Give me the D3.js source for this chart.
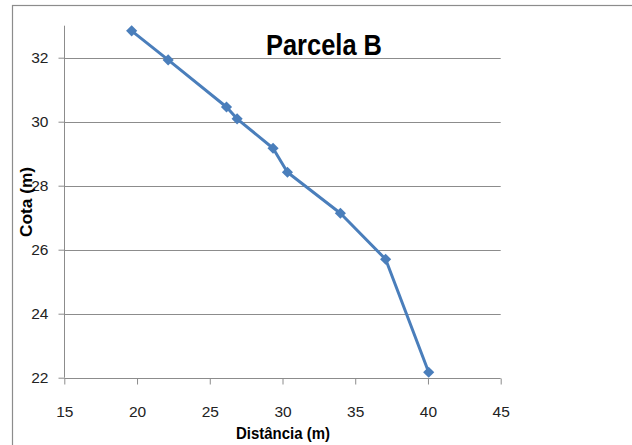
<!DOCTYPE html>
<html><head><meta charset="utf-8">
<script src="https://cdn.jsdelivr.net/npm/d3@7"></script>
<style>body{margin:0;background:#fff}svg{display:block}</style>
</head><body>
<script>
const distancia = [19.63, 22.14, 26.15, 26.88, 29.35, 30.34, 33.98, 37.09, 40.05];
const cota = [32.84, 31.93, 30.46, 30.09, 29.17, 28.42, 27.14, 25.70, 22.17];
const xTicks = [15, 20, 25, 30, 35, 40, 45];
const yTicks = [22, 24, 26, 28, 30, 32];
const title = "Parcela B";
const xTitle = "Distância (m)";
const yTitle = "Cota (m)";

const W = 632, H = 445;
const svg = d3.select("body").append("svg").attr("width", W).attr("height", H);
svg.append("rect").attr("width", W).attr("height", H).attr("fill", "#fff");
// outer frame
svg.append("rect").attr("x", 12.5).attr("y", 5.5).attr("width", 700).attr("height", 600)
  .attr("fill", "none").attr("stroke", "#8c8c8c").attr("stroke-width", 1.2);

const x = d3.scaleLinear().domain([15, 45]).range([64.3, 500.7]);
const y = d3.scaleLinear().domain([22, 33]).range([377.7, 25.7]);

const font = "'Liberation Sans',Arial,sans-serif";

// gridlines
svg.append("g").selectAll("line").data(yTicks.slice(1)).join("line")
  .attr("x1", x(15)).attr("x2", x(45))
  .attr("y1", d => Math.round(y(d)) + 0.5).attr("y2", d => Math.round(y(d)) + 0.5)
  .attr("stroke", "#8c8c8c").attr("stroke-width", 1);

// y axis
const yAxis = svg.append("g").attr("transform", `translate(${Math.round(x(15)) + 0.5},0)`)
  .call(d3.axisLeft(y).tickValues(yTicks).tickSize(6).tickPadding(10).tickFormat(d3.format("d")));
yAxis.select(".domain").attr("d", `M0,${y(33)}V${y(22)}`).attr("stroke", "#8c8c8c");
yAxis.selectAll(".tick line").attr("stroke", "#8c8c8c");
yAxis.selectAll("text").attr("font-family", font).attr("font-size", 15.5).attr("fill", "#222");

// x axis
const xAxis = svg.append("g").attr("transform", `translate(0,${Math.round(y(22)) + 0.5})`)
  .call(d3.axisBottom(x).tickValues(xTicks).tickSize(6).tickPadding(21).tickFormat(d3.format("d")));
xAxis.select(".domain").attr("d", `M${x(15)},0H${x(45)}`).attr("stroke", "#8c8c8c");
xAxis.selectAll(".tick line").attr("stroke", "#8c8c8c");
xAxis.selectAll("text").attr("font-family", font).attr("font-size", 15.5).attr("fill", "#222");

// line
const pts = distancia.map((d, i) => [d, cota[i]]);
svg.append("path").datum(pts)
  .attr("d", d3.line().x(d => x(d[0])).y(d => y(d[1])))
  .attr("fill", "none").attr("stroke", "#4a7ebb").attr("stroke-width", 3).attr("stroke-linejoin", "round");
svg.append("g").selectAll("path").data(pts).join("path")
  .attr("d", d3.symbol().type(d3.symbolSquare).size(62))
  .attr("transform", d => `translate(${x(d[0])},${y(d[1])}) rotate(45)`)
  .attr("fill", "#4a7ebb");

// titles
svg.append("text").attr("x", 324).attr("y", 55).attr("text-anchor", "middle")
  .attr("textLength", 116).attr("lengthAdjust", "spacingAndGlyphs")
  .attr("font-family", font).attr("font-weight", "bold").attr("font-size", 29).attr("fill", "#000").text(title);
svg.append("text").attr("x", 283).attr("y", 439).attr("text-anchor", "middle")
  .attr("textLength", 94).attr("lengthAdjust", "spacingAndGlyphs")
  .attr("font-family", font).attr("font-weight", "bold").attr("font-size", 16).attr("fill", "#000").text(xTitle);
svg.append("text").attr("transform", "translate(32,202) rotate(-90)").attr("text-anchor", "middle")
  .attr("textLength", 70).attr("lengthAdjust", "spacingAndGlyphs")
  .attr("font-family", font).attr("font-weight", "bold").attr("font-size", 16).attr("fill", "#000").text(yTitle);
</script>
</body></html>
